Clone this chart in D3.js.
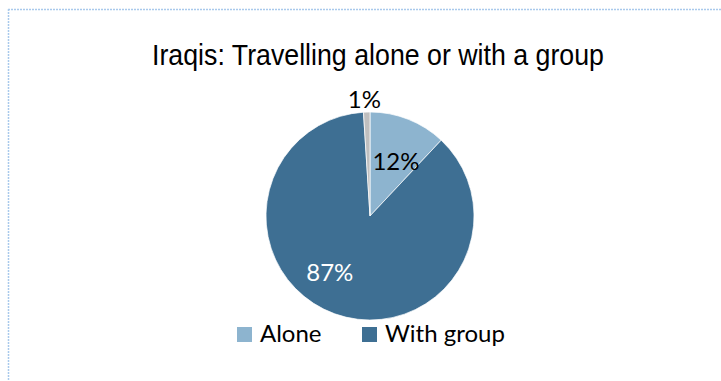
<!DOCTYPE html>
<html>
<head>
<meta charset="utf-8">
<script src="https://cdn.jsdelivr.net/npm/d3@7"></script>
<style>
  html, body { margin: 0; padding: 0; background: #fff; }
  svg { display: block; }
</style>
</head>
<body>
<svg id="chart" width="721" height="381"></svg>
<script>
const title = "Iraqis: Travelling alone or with a group";
const categories = ["Alone", "With group", "No answer"];
const values = [12, 87, 1];
const labels = ["12%", "87%", "1%"];
const colors = ["#8db4cf", "#3e6f93", "#bfbfbf"];
const labelColors = ["#000000", "#ffffff", "#000000"];
const legendCategories = ["Alone", "With group"];

const svg = d3.select("#chart");
const W = 721, H = 381;

// border
svg.append("line").attr("x1", 8).attr("y1", 9.5).attr("x2", W).attr("y2", 9.5)
  .attr("stroke", "#a9c9ec").attr("stroke-width", 1.5).attr("stroke-dasharray", "2,1");
svg.append("line").attr("x1", 8.5).attr("y1", 9).attr("x2", 8.5).attr("y2", H)
  .attr("stroke", "#a9c9ec").attr("stroke-width", 1.5).attr("stroke-dasharray", "2,1");

// title
svg.append("text").attr("x", 378).attr("y", 65)
  .attr("text-anchor", "middle")
  .attr("font-family", "'Liberation Sans', Arial, sans-serif")
  .attr("font-size", 29).attr("fill", "#000")
  .attr("textLength", 452).attr("lengthAdjust", "spacingAndGlyphs")
  .text(title);

const cx = 370, cy = 216, r = 104;
const data = categories.map((c, i) => ({ cat: c, value: values[i], label: labels[i], i }));
const pie = d3.pie().value(d => d.value).sort(null);
const arcs = pie(data);
const arc = d3.arc().innerRadius(0).outerRadius(r);

const g = svg.append("g").attr("transform", `translate(${cx},${cy})`);
g.selectAll("path").data(arcs).join("path")
  .attr("d", arc)
  .attr("fill", d => colors[d.data.i])
  .attr("stroke", "#ffffff").attr("stroke-width", 0.7);

// labels: radius factor and angular shift (radians) per slice
const labelRadius = [0.59, 0.66, 1.13];
const labelShift = [0.06, 0.28, -0.016];
g.selectAll("text.lbl").data(arcs).join("text")
  .attr("class", "lbl")
  .attr("transform", d => {
    const a = (d.startAngle + d.endAngle) / 2 + labelShift[d.data.i];
    const rr = r * labelRadius[d.data.i];
    return `translate(${rr * Math.sin(a)},${-rr * Math.cos(a)})`;
  })
  .attr("text-anchor", "middle")
  .attr("dominant-baseline", "central")
  .attr("font-family", "Lato, 'Open Sans', sans-serif")
  .attr("font-size", 24)
  .attr("fill", d => labelColors[d.data.i])
  .text(d => d.data.label);

// legend
const legendX = [237, 362];
const lg = svg.append("g");
legendCategories.forEach((c, k) => {
  const i = categories.indexOf(c);
  lg.append("rect").attr("x", legendX[k]).attr("y", 327).attr("width", 15).attr("height", 15)
    .attr("fill", colors[i]);
  lg.append("text").attr("x", legendX[k] + 23).attr("y", 342)
    .attr("font-family", "Lato, 'Open Sans', sans-serif")
    .attr("font-size", 24).attr("fill", "#000")
    .text(c);
});
</script>
</body>
</html>
